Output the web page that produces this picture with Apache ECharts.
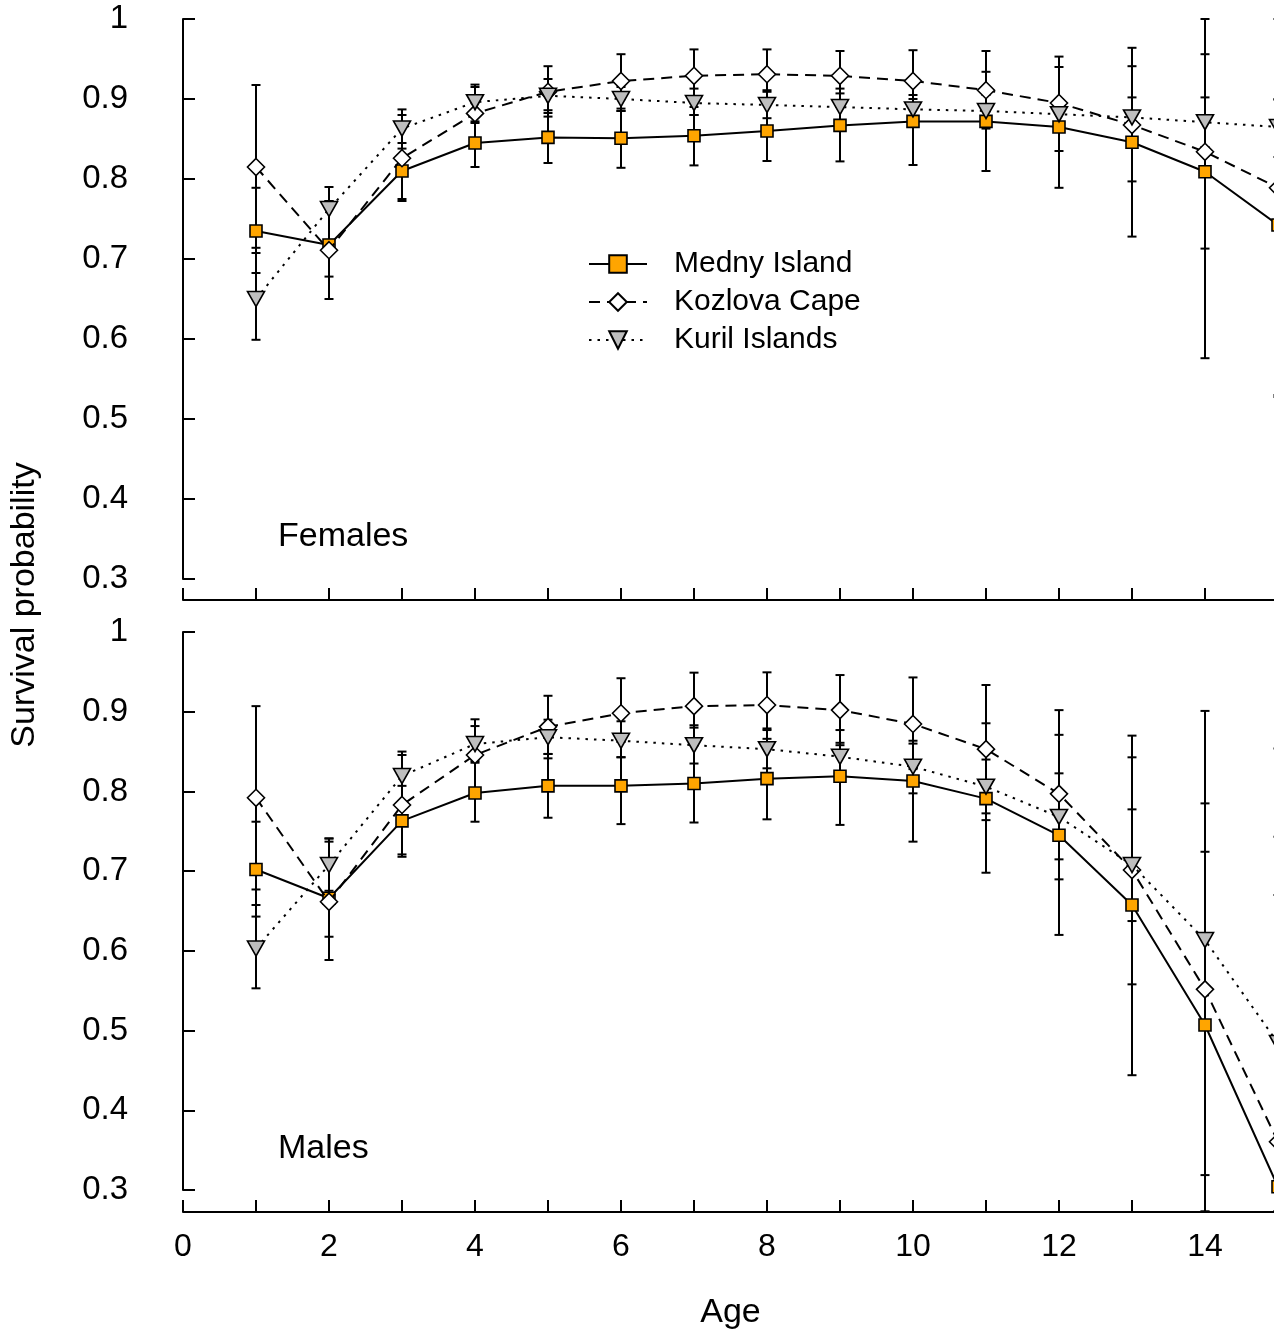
<!DOCTYPE html>
<html>
<head>
<meta charset="utf-8">
<script src="https://cdn.jsdelivr.net/npm/echarts@6/dist/echarts.min.js"></script>
<style>
html,body{margin:0;padding:0;background:#fff;}
#chart{width:1274px;height:1333px;}
</style>
</head>
<body>
<div id="chart"></div>
<script>
// ---- data ----
const ages = [1,2,3,4,5,6,7,8,9,10,11,12,13,14,15];
const seriesNames = ['Medny Island','Kozlova Cape','Kuril Islands'];

// Females
const femMedny    = [0.735,0.7175,0.81,0.845,0.852,0.851,0.854,0.86,0.867,0.872,0.872,0.865,0.846,0.809,0.7425];
const femMednyLo  = [0.6825,0.678,0.775,0.815,0.82,0.814,0.817,0.8225,0.822,0.8175,0.81,0.789,0.728,0.576,0.5275];
const femMednyHi  = [0.789,0.7725,0.845,0.872,0.886,0.885,0.88,0.909,0.907,0.905,0.934,0.94,0.941,1.0,0.899];
const femKozlova   = [0.815,0.711,0.826,0.882,0.909,0.9225,0.929,0.931,0.929,0.9225,0.911,0.895,0.8675,0.834,0.789];
const femKozlovaLo = [0.7075,0.65,0.7725,0.85,0.878,0.885,0.89,0.895,0.895,0.87,0.875,0.835,0.797,0.713,0.53];
const femKozlovaHi = [0.9175,0.7725,0.88,0.915,0.941,0.956,0.962,0.962,0.96,0.961,0.96,0.953,0.964,0.956,1.0];
const femKuril    = [0.65,0.7625,0.863,0.896,0.904,0.90,0.895,0.8925,0.89,0.887,0.885,0.881,0.877,0.871,0.865];
const femKurilLo  = [0.599,0.724,0.838,0.87,0.8825,0.888,0.88,0.876,0.87,0.87,0.863,0.86,0.85,0.84,0.8275];
const femKurilHi  = [0.714,0.79,0.887,0.918,0.925,0.915,0.913,0.911,0.913,0.90,0.905,0.90,0.902,0.902,0.90];

// Males
const maleMedny    = [0.702,0.666,0.763,0.798,0.807,0.807,0.81,0.816,0.819,0.813,0.791,0.745,0.6575,0.507,0.304];
const maleMednyLo  = [0.643,0.6177,0.718,0.762,0.767,0.759,0.761,0.765,0.758,0.737,0.698,0.62,0.444,0.273,0.273];
const maleMednyHi  = [0.762,0.737,0.807,0.836,0.847,0.843,0.858,0.866,0.858,0.8636,0.8855,0.8227,0.8428,0.901,0.854];
const maleKozlova   = [0.792,0.6616,0.783,0.8457,0.881,0.898,0.907,0.9084,0.902,0.8846,0.853,0.797,0.7014,0.5517,0.3605];
const maleKozlovaLo = [0.6575,0.5885,0.721,0.80,0.8415,0.862,0.88,0.879,0.861,0.828,0.764,0.6897,0.558,0.273,0.273];
const maleKozlovaHi = [0.907,0.741,0.8457,0.882,0.92,0.942,0.949,0.9494,0.946,0.943,0.9335,0.902,0.87,0.785,0.743];
const maleKuril    = [0.603,0.7077,0.8193,0.8595,0.868,0.8636,0.858,0.853,0.8435,0.831,0.806,0.768,0.7077,0.6136,0.4843];
const maleKurilLo  = [0.553,0.6754,0.785,0.838,0.847,0.8428,0.835,0.829,0.815,0.7976,0.7725,0.7148,0.6374,0.3187,0.273];
const maleKurilHi  = [0.677,0.741,0.85,0.8905,0.89,0.888,0.883,0.877,0.877,0.86,0.84,0.871,0.7775,0.7243,0.67];

const panelLabels = ['Females','Males'];
const yTitle = 'Survival probability';
const xTitle = 'Age';

// ---- helpers ----
const FONT = '"Liberation Sans", Arial, sans-serif';
const pts = (ys) => ages.map((a,i) => [a, ys[i]]);
const bars = (lo, hi) => ages.map((a,i) => [a, lo[i], hi[i]]);

function renderErr(params, api) {
  const x = api.value(0), lo = api.value(1), hi = api.value(2);
  const p1 = api.coord([x, lo]);
  const p2 = api.coord([x, hi]);
  const w = 4.5;
  const st = {stroke:'#000', lineWidth:2};
  return {type:'group', children:[
    {type:'line', shape:{x1:p1[0], y1:p1[1], x2:p2[0], y2:p2[1]}, style:st},
    {type:'line', shape:{x1:p1[0]-w, y1:p1[1], x2:p1[0]+w, y2:p1[1]}, style:st},
    {type:'line', shape:{x1:p2[0]-w, y1:p2[1], x2:p2[0]+w, y2:p2[1]}, style:st}
  ]};
}

function errSeries(idx, lo, hi) {
  return {type:'custom', xAxisIndex:idx, yAxisIndex:idx, renderItem:renderErr,
    encode:{x:0, y:[1,2]}, data:bars(lo,hi), clip:false, z:1, silent:true};
}

const styles = [
  {symbol:'rect', symbolSize:12, symbolRotate:0, fill:'#FFA500', line:{color:'#000', width:2, type:'solid'}},
  {symbol:'diamond', symbolSize:[17,17], symbolRotate:0, fill:'#FFFFFF', line:{color:'#000', width:2, type:[11,7]}},
  {symbol:'triangle', symbolSize:[17,15], symbolRotate:180, fill:'#BEBEBE', line:{color:'#000', width:2, type:[2.5,6]}}
];

function lineSeries(idx, k, ys) {
  const s = styles[k];
  return {type:'line', name:seriesNames[k], xAxisIndex:idx, yAxisIndex:idx, data:pts(ys),
    symbol:s.symbol, symbolSize:s.symbolSize, symbolRotate:s.symbolRotate, showAllSymbol:true,
    clip:false, z:2+k,
    lineStyle:{color:s.line.color, width:s.line.width, type:s.line.type},
    itemStyle:{color:s.fill, borderColor:'#000', borderWidth:1.6, opacity:1},
    emphasis:{disabled:true}};
}

function xAx(idx, showLabels, offset) {
  const ax = {gridIndex:idx, type:'value', min:0, max:15, interval:1, offset:offset,
    axisLine:{show:true, onZero:false, lineStyle:{color:'#000', width:2}},
    axisTick:{show:true, inside:true, length:12, lineStyle:{color:'#000', width:2}},
    axisLabel:{show:showLabels, color:'#000', fontSize:32, fontFamily:FONT, margin:19,
      formatter:(v)=> (Math.round(v)%2===0 && Math.round(v)<=14) ? String(Math.round(v)) : ''},
    splitLine:{show:false}};
  if (showLabels) {
    ax.name = xTitle; ax.nameLocation = 'middle'; ax.nameGap = 84;
    ax.nameTextStyle = {color:'#000', fontSize:34, fontFamily:FONT};
  }
  return ax;
}
function yAx(idx) {
  return {gridIndex:idx, type:'value', min:0.3, max:1, interval:0.1, offset:43,
    axisLine:{show:true, lineStyle:{color:'#000', width:2}},
    axisTick:{show:true, inside:true, length:12, lineStyle:{color:'#000', width:2}},
    axisLabel:{color:'#000', fontSize:33, fontFamily:FONT, margin:12,
      formatter:(v)=> Math.abs(v-1)<1e-9 ? '1' : v.toFixed(1)},
    splitLine:{show:false}};
}

const option = {
  animation:false,
  backgroundColor:'#fff',
  grid:[
    {left:183, top:19, width:1095, height:560, containLabel:false, outerBoundsMode:'none'},
    {left:183, top:632, width:1095, height:558, containLabel:false, outerBoundsMode:'none'}
  ],
  xAxis:[xAx(0,false,21), xAx(1,true,22)],
  yAxis:[yAx(0), yAx(1)],
  legend:{
    data:seriesNames, orient:'vertical', left:588, top:249, padding:0,
    itemWidth:58, itemHeight:22, itemGap:8,
    textStyle:{color:'#000', fontSize:30, fontFamily:FONT, lineHeight:30, padding:[0,0,0,22]},
    selectedMode:false
  },
  graphic:[
    {type:'text', x:278, y:537, style:{text:panelLabels[0], font:'34px '+FONT, fill:'#000', verticalAlign:'middle', textVerticalAlign:'middle'}},
    {type:'text', x:278, y:1149, style:{text:panelLabels[1], font:'34px '+FONT, fill:'#000', verticalAlign:'middle', textVerticalAlign:'middle'}},
    {type:'text', x:25, y:605, rotation:Math.PI/2, style:{text:yTitle, font:'34px '+FONT, fill:'#000', align:'center', textAlign:'center', verticalAlign:'middle', textVerticalAlign:'middle'}}
  ],
  series:[
    errSeries(0, femMednyLo, femMednyHi),
    errSeries(0, femKozlovaLo, femKozlovaHi),
    errSeries(0, femKurilLo, femKurilHi),
    errSeries(1, maleMednyLo, maleMednyHi),
    errSeries(1, maleKozlovaLo, maleKozlovaHi),
    errSeries(1, maleKurilLo, maleKurilHi),
    lineSeries(0, 0, femMedny),
    lineSeries(0, 1, femKozlova),
    lineSeries(0, 2, femKuril),
    lineSeries(1, 0, maleMedny),
    lineSeries(1, 1, maleKozlova),
    lineSeries(1, 2, maleKuril)
  ]
};
const chart = echarts.init(document.getElementById('chart'), null, {renderer:'canvas'});
chart.setOption(option);
</script>
</body>
</html>
